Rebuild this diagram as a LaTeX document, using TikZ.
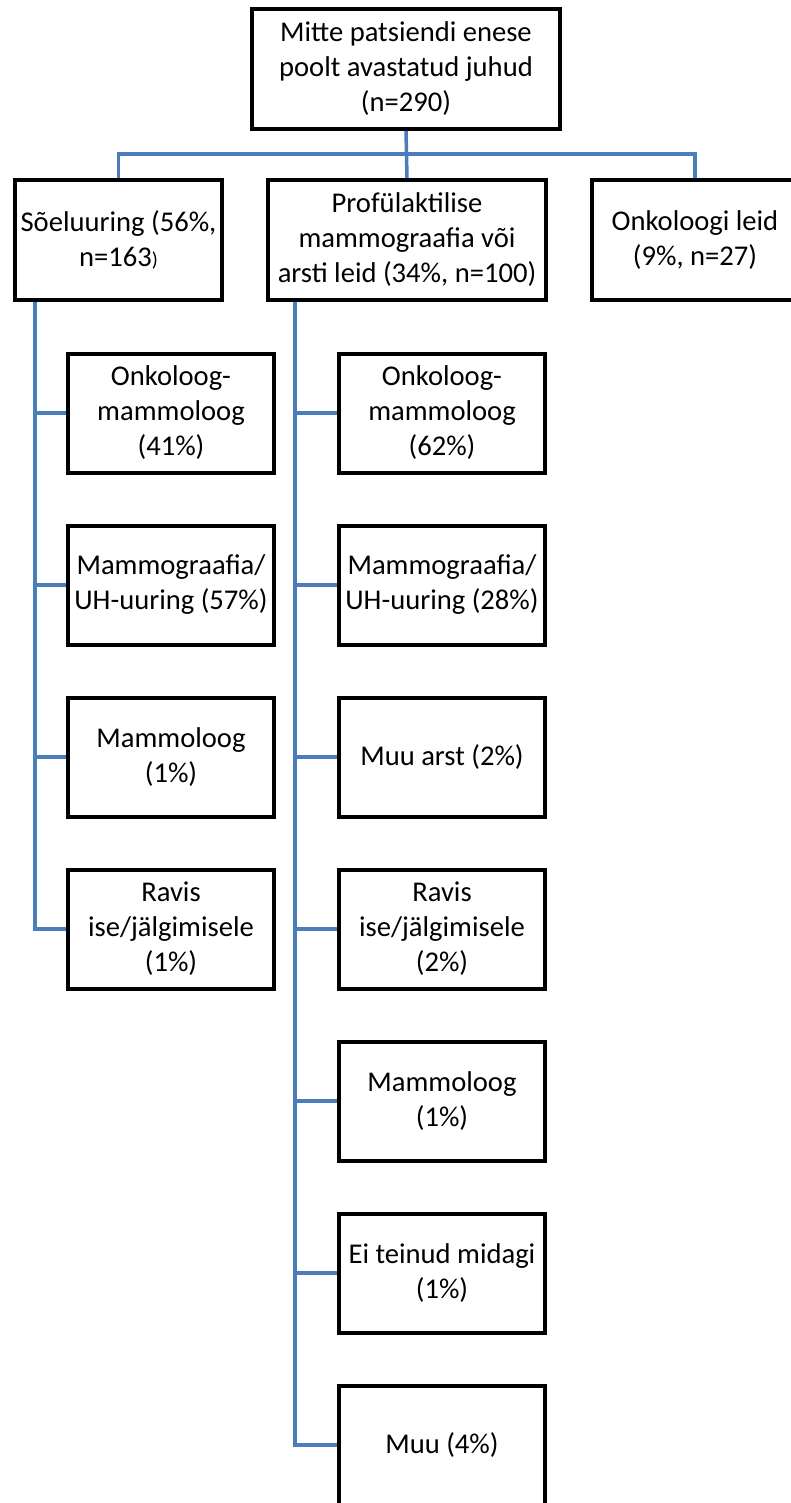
\documentclass[tikz,border=0pt]{standalone}
\usepackage{fontspec}
\setmainfont{Carlito}
\definecolor{linkblue}{HTML}{4A7EBB}
\tikzset{
  box/.style={draw,line width=4pt,minimum width=206pt,minimum height=119pt,inner sep=0pt,align=center,font=\fontsize{28.6}{35}\selectfont},
  link/.style={draw=linkblue,line width=3.5pt}
}
\begin{document}
\begin{tikzpicture}[x=1pt,y=-1pt]
\path[use as bounding box] (0,0) rectangle (791,1503);
\clip (0,0) rectangle (791,1503);
% top level
\node[box,minimum width=308pt,minimum height=120pt] (top) at (406,69) {Mitte patsiendi enese\\poolt avastatud juhud\\(n=290)};
\node[box,minimum width=207pt,minimum height=120pt] (soel) at (118.5,240) {S\~oeluuring (56\%,\\n=163{\fontsize{20}{20}\selectfont)}};
\node[box,minimum width=278pt,minimum height=120pt] (prof) at (407,240) {Prof\"ulaktilise\\mammograafia v\~oi\\arsti leid (34\%, n=100)};
\node[box,minimum height=120pt] (onk) at (695,240) {Onkoloogi leid\\(9\%, n=27)};
\coordinate (bar) at (406,154);
\draw[link] (soel.north) |- (bar) -| (onk.north);
\draw[link] (top.south) -- (prof.north);
% soeluuring
\node[box] (s1) at (171,413) {Onkoloog-\\mammoloog\\(41\%)};
\node[box] (s2) at (171,585) {Mammograafia/\\UH-uuring (57\%)};
\node[box] (s3) at (171,757) {Mammoloog\\(1\%)};
\node[box] (s4) at (171,929) {Ravis\\ise/j\"algimisele\\(1\%)};
\coordinate (sl) at ([xshift=22pt]soel.south west);
\draw[link] (sl) |- (s4.west);
\foreach \i in {1,2,3} \draw[link] (s\i.west) -- (s\i.west -| sl);
% profulaktiline
\node[box] (p1) at (442,413) {Onkoloog-\\mammoloog\\(62\%)};
\node[box] (p2) at (442,585) {Mammograafia/\\UH-uuring (28\%)};
\node[box] (p3) at (442,757) {Muu arst (2\%)};
\node[box] (p4) at (442,929) {Ravis\\ise/j\"algimisele\\(2\%)};
\node[box] (p5) at (442,1101) {Mammoloog\\(1\%)};
\node[box] (p6) at (442,1273) {Ei teinud midagi\\(1\%)};
\node[box] (p7) at (442,1445) {Muu (4\%)};
\coordinate (pl) at ([xshift=29pt]prof.south west);
\draw[link] (pl) |- (p7.west);
\foreach \i in {1,...,6} \draw[link] (p\i.west) -- (p\i.west -| pl);
\end{tikzpicture}
\end{document}
